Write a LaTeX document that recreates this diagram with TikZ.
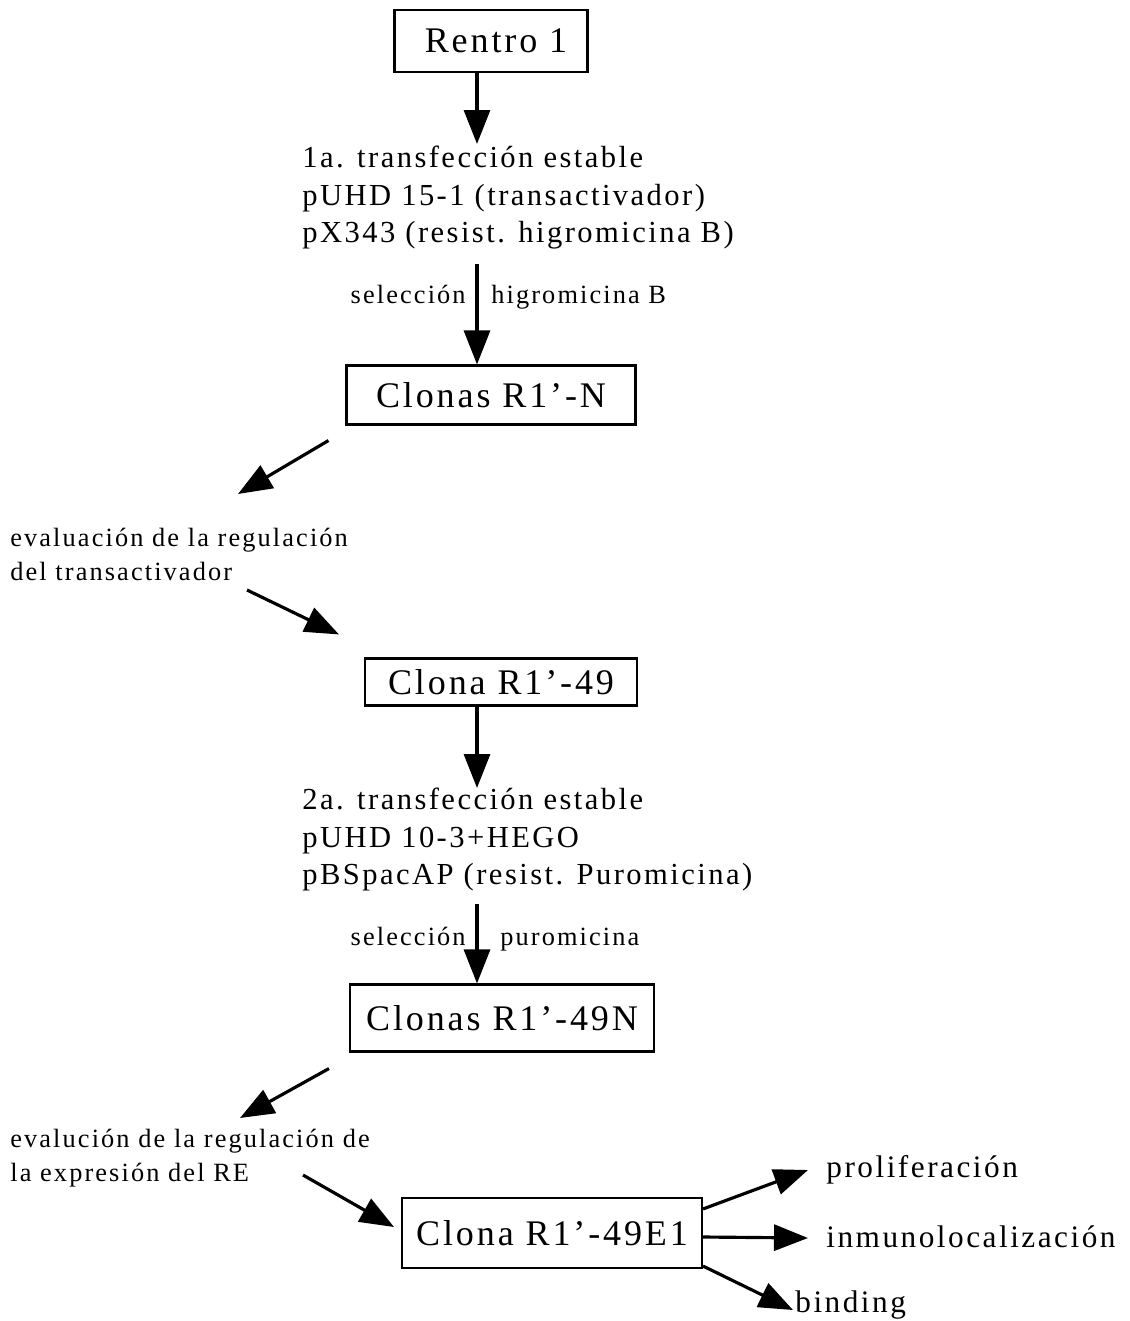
\documentclass[tikz,border=0pt]{standalone}
\usepackage{fontspec}
\setmainfont{Liberation Serif}[LetterSpace=8]
\usepackage{tikz}
\usetikzlibrary{arrows.meta,positioning,calc}
\definecolor{fcink}{HTML}{000000}
\tikzset{
  clbox/.style={draw=fcink,line width=1.2pt,inner sep=0pt,
                font=\fontsize{20.5}{24}\selectfont,text=fcink},
  txtblk/.style={align=left,inner sep=0pt,anchor=north west,
                font=\fontsize{17.4}{21.3}\selectfont,text=fcink},
  evtxt/.style={align=left,inner sep=0pt,anchor=north west,
                font=\fontsize{15}{19.5}\selectfont,text=fcink},
  sellbl/.style={inner sep=0pt,font=\fontsize{15}{18}\selectfont,text=fcink},
  outlbl/.style={inner sep=0pt,anchor=base west,
                font=\fontsize{17.8}{21}\selectfont,text=fcink},
  flow/.style={-{Triangle[length=6.8mm,width=5.2mm]},line width=1.8pt,draw=fcink},
}

\begin{document}
\begin{tikzpicture}[x=0.02cm,y=-0.02cm]
  \useasboundingbox (0,0) rectangle (1129,1321);

  % ---------- arrow column ----------
  \coordinate (ax) at (477,0);

  % ---------- boxes ----------
  \node[clbox,minimum width=3.86cm,minimum height=1.24cm,text depth=0pt] (rentro) at (491,41) {\hspace{0.2cm}Rentro 1};
  \node[clbox,minimum width=5.78cm,minimum height=1.18cm] (clN)    at (491,395) {Clonas R1’-N};
  \node[clbox,minimum width=5.44cm,minimum height=0.94cm] (cl49)   at (501,682) {Clona R1’-49};
  \node[clbox,minimum width=6.08cm,minimum height=1.34cm] (cl49N)  at (502,1018) {Clonas R1’-49N};
  \node[clbox,minimum width=6.00cm,minimum height=1.40cm] (cl49E1) at (552,1233) {Clona R1’-49E1};

  % ---------- transfection steps ----------
  \node[txtblk] (tr1) at (302,146)
    {1a. transfección estable\\
     pUHD 15-1 (transactivador)\\
     pX343 (resist. higromicina B)};
  \node[txtblk] (tr2) at (302,788)
    {2a. transfección estable\\
     pUHD 10-3+HEGO\\
     pBSpacAP (resist. Puromicina)};

  % ---------- evaluation steps ----------
  \node[evtxt] (ev1) at (10,528)
    {evaluación de la regulación\\
     del transactivador};
  \node[evtxt] (ev2) at (10,1129)
    {evalución de la regulación de\\
     la expresión del RE};

  % ---------- selection labels ----------
  \node[sellbl,anchor=base east] (sel1) at (466,303) {selección};
  \node[sellbl,anchor=base west] (hyg)  at (491,303) {higromicina B};
  \node[sellbl,anchor=base east] (sel2) at (466,945) {selección};
  \node[sellbl,anchor=base west] (puro) at (500,945) {puromicina};

  % ---------- assays ----------
  \node[outlbl] (prol) at (826,1177) {proliferación};
  \node[outlbl] (inmu) at (826,1247) {inmunolocalización};
  \node[outlbl] (bind) at (795,1312) {binding};

  % ---------- vertical arrows ----------
  \draw[flow] (rentro.south -| ax) -- ($(tr1.north -| ax)+(0,-2)$);
  \draw[flow] ($(tr1.south -| ax)+(0,14)$) -- (clN.north -| ax);
  \draw[flow] (cl49.south -| ax) -- ($(tr2.north -| ax)+(0,0)$);
  \draw[flow] ($(tr2.south -| ax)+(0,12)$) -- (cl49N.north -| ax);

  % ---------- diagonal arrows ----------
  \draw[flow] ($(clN.south west)+(-17,15)$) -- ($(ev1.north west)+(228,-34)$);
  \draw[flow] ($(ev1.north west)+(237,62)$) -- ($(cl49.north west)+(-25,-23)$);
  \draw[flow] ($(cl49N.south west)+(-20,16)$) -- ($(ev2.north west)+(230,-11)$);
  \draw[flow] ($(ev2.north west)+(293,46)$) -- ($(cl49E1.west)+(-7,-6)$);

  % ---------- assay arrows ----------
  \draw[flow] ($(cl49E1.north east)+(0,12)$) -- ($(prol.base west)+(-18,-7)$);
  \draw[flow] ($(cl49E1.east)+(0,4)$) -- ($(inmu.base west)+(-18,-9)$);
  \draw[flow] ($(cl49E1.south east)+(0,-3)$) -- ($(bind.base west)+(-2,-2)$);
\end{tikzpicture}
\end{document}
